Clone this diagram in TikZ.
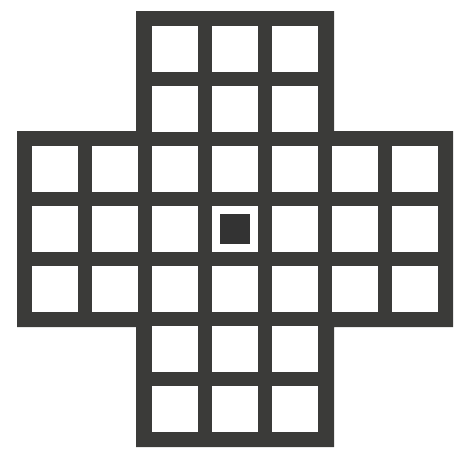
\documentclass[tikz,border=0pt]{standalone}
\definecolor{boardgray}{HTML}{3B3B39}
\definecolor{peggray}{HTML}{333333}
\tikzset{
  hole/.style={fill=white},
  peg/.style={fill=peggray}
}
\begin{document}
\begin{tikzpicture}[x=1pt,y=-1pt]
  \useasboundingbox (0,0) rectangle (461,453);

  % Board (cross shape)
  \fill[boardgray] (136,11) -- (334,11) -- (334,131) -- (453,131)
    -- (453,327) -- (334,327) -- (334,447) -- (136,447)
    -- (136,327) -- (17,327) -- (17,131) -- (136,131) -- cycle;

  % Holes of the top and bottom arms
  \foreach \j in {0,1,5,6}
    \foreach \i in {2,3,4}
      \fill[hole] ({32+60*\i},{26+60*\j}) rectangle +(46,46);

  % Holes of the middle band
  \foreach \j in {2,3,4}
    \foreach \i in {0,...,6}
      \fill[hole] ({32+60*\i},{26+60*\j}) rectangle +(46,46);

  % Peg in the centre hole
  \coordinate (C) at (235,229);
  \fill[peg] ([xshift=-15pt,yshift=15pt]C) rectangle ([xshift=15pt,yshift=-15pt]C);
\end{tikzpicture}
\end{document}
